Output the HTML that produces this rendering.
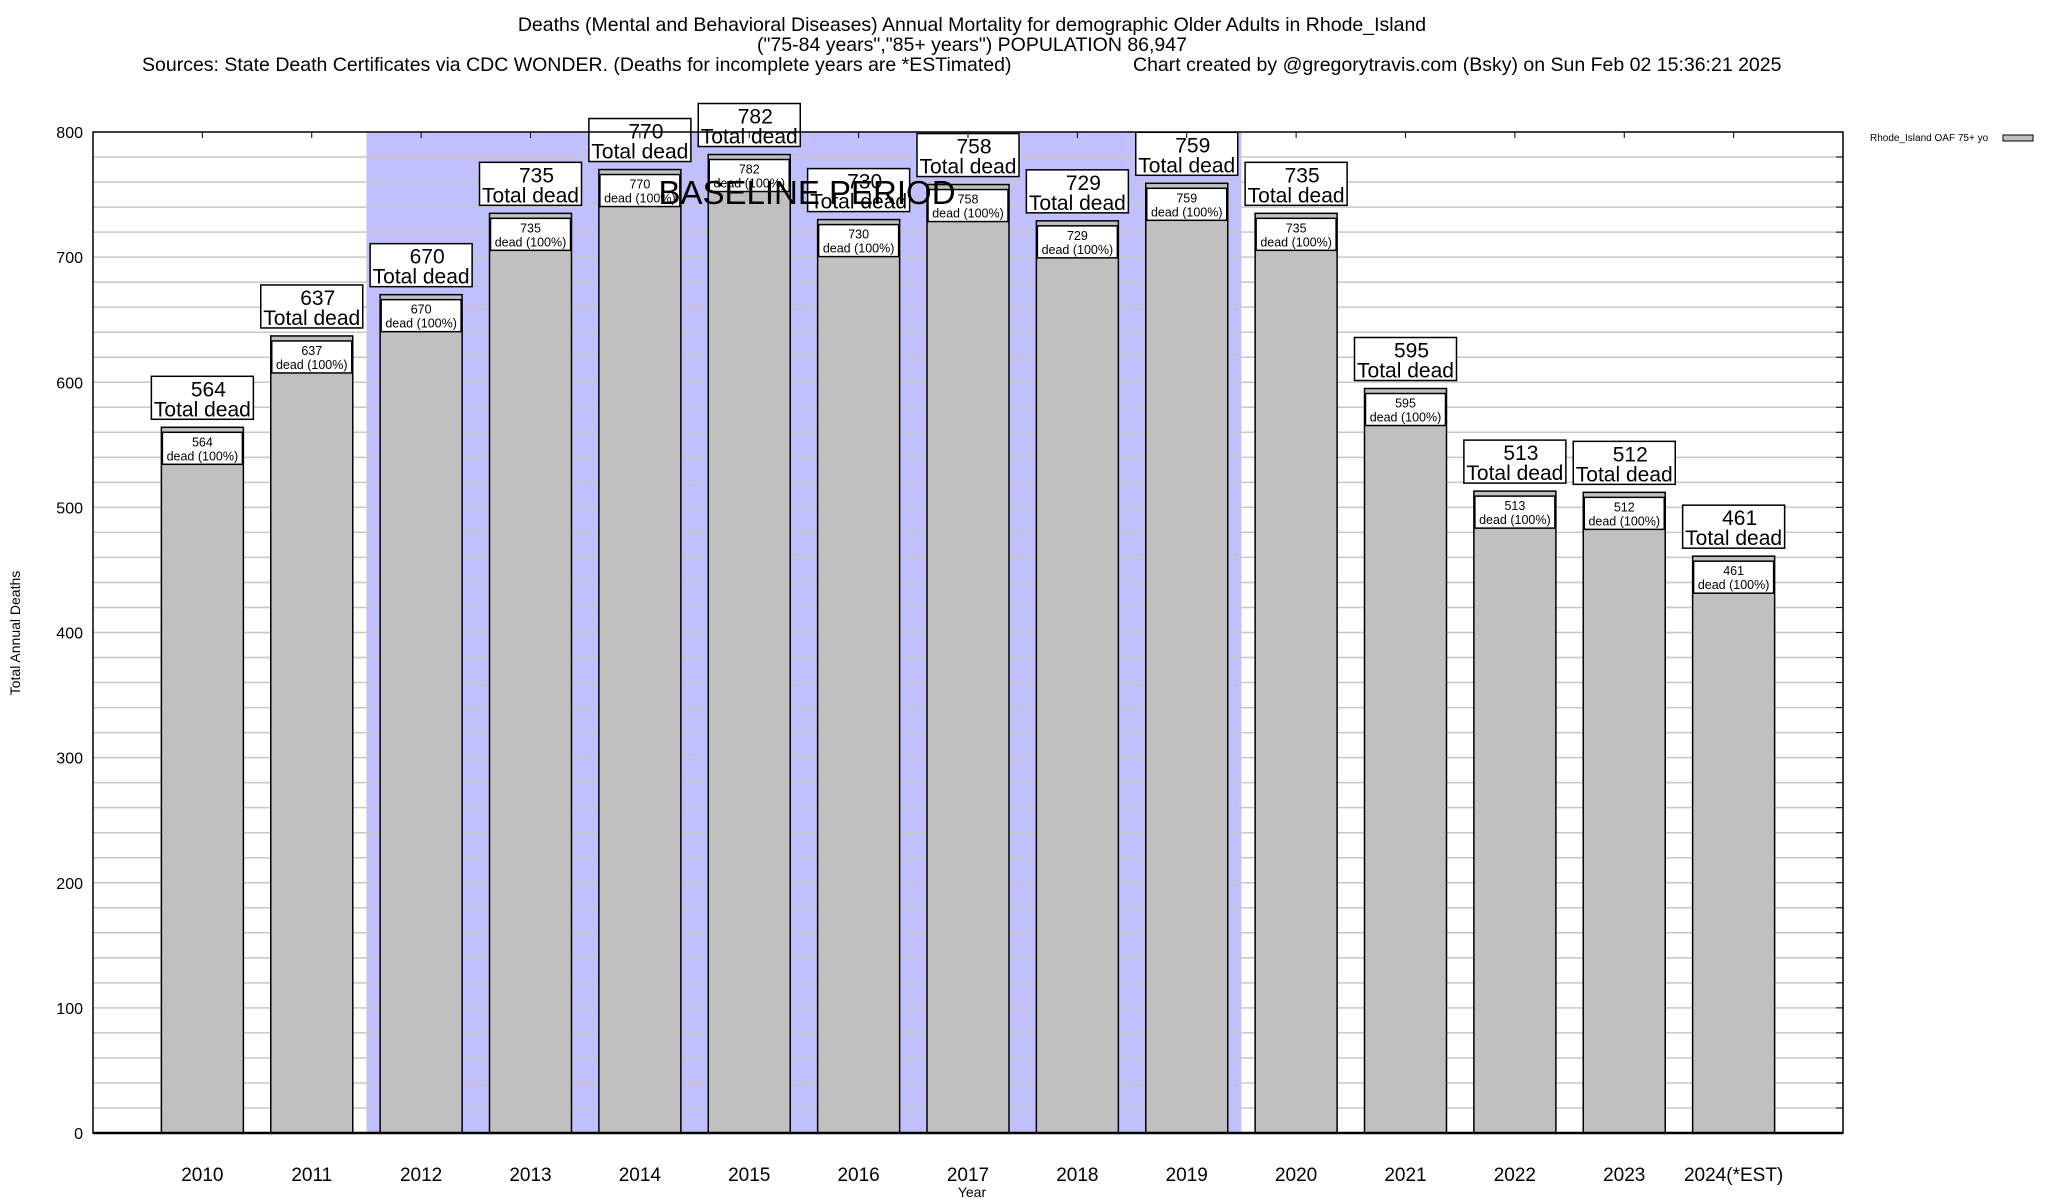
<!DOCTYPE html>
<html><head><meta charset="utf-8"><style>
html,body{margin:0;padding:0;background:#fff;}
svg{display:block;font-family:"Liberation Sans",Arial,sans-serif;}
</style></head><body>
<svg id="chart" width="2048" height="1200" viewBox="0 0 2048 1200">
<g>
<text x="972" y="31" text-anchor="middle" font-size="19.5">Deaths (Mental and Behavioral Diseases) Annual Mortality for demographic Older Adults in Rhode_Island</text>
<text x="972" y="51" text-anchor="middle" font-size="19.5">("75-84 years","85+ years") POPULATION 86,947</text>
<text x="142" y="71" font-size="19.5">Sources: State Death Certificates via CDC WONDER. (Deaths for incomplete years are *ESTimated)</text>
<text x="1133" y="71" font-size="19.5">Chart created by @gregorytravis.com (Bsky) on Sun Feb 02 15:36:21 2025</text>
</g>
<g id="plot"></g>
<text transform="translate(20,633) rotate(-90)" text-anchor="middle" font-size="14">Total Annual Deaths</text>
<text x="972" y="1197" text-anchor="middle" font-size="14">Year</text>
<g>
<text x="1870" y="141" font-size="10">Rhode_Island OAF 75+ yo</text>
<rect x="2003" y="135" width="30" height="6" fill="#c0c0c0" stroke="#000" stroke-width="1"/>
</g>
</svg>
<script>
const categories = ["2010","2011","2012","2013","2014","2015","2016","2017","2018","2019","2020","2021","2022","2023","2024(*EST)"];
const deaths = [564,637,670,735,770,782,730,758,729,759,735,595,513,512,461];
const yTicks = [0,100,200,300,400,500,600,700,800];
const baselineStart = 2;
const baselineEnd = 9;

const NS="http://www.w3.org/2000/svg";
const L=93,R=1843,T=132,B=1133,YMAX=800;
const slot=(R-L)/(categories.length+1);
const bw=82;
function xC(i){return L+(i+1)*slot;}
function yS(v){return B-(v/YMAX)*(B-T);}
const plot=document.getElementById('plot');
function mk(tag,attrs,parent){const e=document.createElementNS(NS,tag);for(const k in attrs)e.setAttribute(k,attrs[k]);(parent||plot).appendChild(e);return e;}

const sh=mk('rect',{x:xC(baselineStart)-slot/2,y:T,width:xC(baselineEnd)-xC(baselineStart)+slot,height:B-T,fill:'#c0c0ff'});



for(let v=20;v<YMAX;v+=20){
  const g=mk('line',{x1:L,x2:R,y1:yS(v),y2:yS(v),stroke:'#c8c8c8','stroke-width':1.5});
  
  
  const t1=mk('line',{x1:R-7,x2:R,y1:yS(v),y2:yS(v),stroke:'#000','stroke-width':1});
  
  
}
yTicks.forEach(v=>{
  const t=mk('text',{x:83,y:yS(v)+6,'text-anchor':'end','font-size':16});
  t.textContent=v;
  
  
});

categories.forEach((c,i)=>{
  const v=deaths[i],cx=xC(i),top=yS(v);
  const g=mk('g',{});
  
  
  const r=mk('rect',{x:cx-bw/2,y:top,width:bw,height:B-top,fill:'#c0c0c0',stroke:'#000','stroke-width':1.5},g);
  
  
  const ib=mk('rect',{x:cx-bw/2+1,y:top+5,width:bw-2,height:32,fill:'#fff',stroke:'#000','stroke-width':1.5},g);
  
  
  const t1=mk('text',{x:cx,y:top+19,'text-anchor':'middle','font-size':12.5},g);
  t1.textContent=v;
  
  
  const t2=mk('text',{x:cx,y:top+33,'text-anchor':'middle','font-size':12.5},g);
  t2.textContent='dead (100%)';
  
  
  const ob=mk('rect',{x:cx-51,y:top-51,width:102,height:43,fill:'#fff',stroke:'#000','stroke-width':1.5},g);
  
  
  const t3=mk('text',{x:cx+6,y:top-31,'text-anchor':'middle','font-size':21},g);
  t3.textContent=v;
  
  
  const t4=mk('text',{x:cx,y:top-11,'text-anchor':'middle','font-size':21},g);
  t4.textContent='Total dead';
  
  
  const tk=mk('line',{x1:cx,x2:cx,y1:T,y2:T+6,stroke:'#000','stroke-width':1});
  
  
  const xl=mk('text',{x:cx,y:1181,'text-anchor':'middle','font-size':19});
  xl.textContent=c;
  
  
});

const bl=mk('text',{x:807,y:204,'text-anchor':'middle','font-size':33});
bl.textContent='BASELINE PERIOD';



const fr=mk('rect',{x:L,y:T,width:R-L,height:B-T,fill:'none',stroke:'#000','stroke-width':1.5});


const ax=mk('line',{x1:L,x2:R,y1:B,y2:B,stroke:'#000','stroke-width':2.5});


</script>
</body></html>
